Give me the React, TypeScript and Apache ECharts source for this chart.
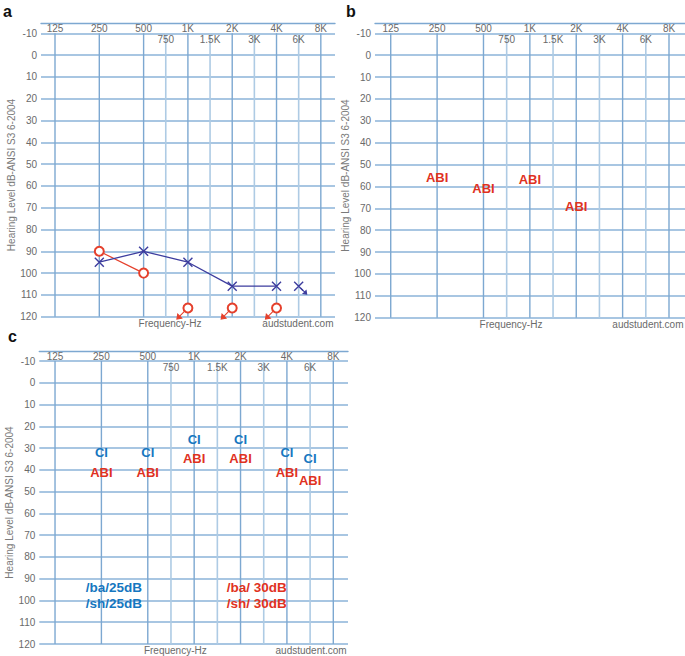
import React, { useEffect, useRef } from 'react';
import * as echarts from 'echarts';

// ---------- data ----------
// frequency positions on an octave scale: 125 Hz = 0, 250 = 1, ... 8K = 6
const freqLabelsMain = ['125', '250', '500', '1K', '2K', '4K', '8K'];
const freqIdxMain = [0, 1, 2, 3, 4, 5, 6];
const freqLabelsMid = ['750', '1.5K', '3K', '6K'];
const freqIdxMid = [2.5, 3.5, 4.5, 5.5];
const dbTicks = [-10, 120];

// Panel a: unaided audiogram
const rightEarIdx = [1, 2];
const rightEarDb = [90, 100];
const rightNoRespIdx = [3, 4, 5];
const rightNoRespDb = [116, 116, 116];
const leftEarIdx = [1, 2, 3, 4, 5];
const leftEarDb = [95, 90, 95, 106, 106];
const leftNoRespIdx = [5.5];
const leftNoRespDb = [106];

// Panel b: ABI aided thresholds
const abiBIdx = [1, 2, 3, 4];
const abiBDb = [56, 61, 57, 69];

// Panel c: CI and ABI aided thresholds
const cIdx = [1, 2, 3, 4, 5, 5.5];
const ciDb = [32, 32, 26, 26, 32, 35];
const abiCDb = [41, 41, 35, 35, 41, 45];
const speechTextCI = ['/ba/25dB', '/sh/25dB'];
const speechTextABI = ['/ba/ 30dB', '/sh/ 30dB'];
const speechIdxCI = [1.27, 1.27];
const speechIdxABI = [4.35, 4.35];
const speechDb = [94, 101.6];

// ---------- styles ----------
const FONT = 'Liberation Sans, Arial, Helvetica, sans-serif';
const GRID_MAIN = '#7da8d1';
const GRID_MID = '#aecbe4';
const GRID_H = '#8bb3d8';
const TICK_TXT = '#6a6a6a';
const RED = '#e5402c';
const INDIGO = '#3d3d9e';
const CI_BLUE = '#1677c0';
const ABI_RED = '#e0321f';

const panels = [
  { left: 41, top: 33.3, width: 294, height: 283.4, xMin: -0.316, xMax: 6.32 },
  { left: 375, top: 33.3, width: 310, height: 284.4, xMin: -0.339, xMax: 6.345 },
  { left: 39.3, top: 361, width: 308.7, height: 283, xMin: -0.339, xMax: 6.317 },
];

function gridSeries(p: number) {
  const out: any[] = [];
  freqIdxMain.forEach((f) => {
    out.push({
      type: 'line', xAxisIndex: p, yAxisIndex: p, silent: true, z: 1,
      showSymbol: false, symbol: 'none',
      data: [[f, dbTicks[0]], [f, dbTicks[1]]],
      lineStyle: { color: GRID_MAIN, width: 1.4 },
    });
  });
  freqIdxMid.forEach((f) => {
    out.push({
      type: 'line', xAxisIndex: p, yAxisIndex: p, silent: true, z: 1,
      showSymbol: false, symbol: 'none',
      data: [[f, dbTicks[0]], [f, dbTicks[1]]],
      lineStyle: { color: GRID_MID, width: 1.6 },
    });
  });
  const lbl = { show: true, position: 'inside', formatter: '{b}', color: TICK_TXT, fontSize: 10, fontFamily: FONT };
  out.push({
    type: 'scatter', xAxisIndex: p, yAxisIndex: p, silent: true, clip: false, z: 3,
    symbolSize: 1, itemStyle: { color: 'transparent', opacity: 1 },
    data: freqIdxMain.map((f, i) => ({ value: [f, -12.2], name: freqLabelsMain[i] })),
    label: lbl,
  });
  out.push({
    type: 'scatter', xAxisIndex: p, yAxisIndex: p, silent: true, clip: false, z: 3,
    symbolSize: 1, itemStyle: { color: 'transparent', opacity: 1 },
    data: freqIdxMid.map((f, i) => ({ value: [f, -7.1], name: freqLabelsMid[i] })),
    label: lbl,
  });
  return out;
}

function textSeries(p: number, idx: number[], db: number[], texts: string[], color: string, size: number) {
  return {
    type: 'scatter', xAxisIndex: p, yAxisIndex: p, silent: true, clip: false, z: 6,
    symbolSize: 1, itemStyle: { color: 'transparent', opacity: 1 },
    data: idx.map((f, i) => ({ value: [f, db[i]], name: texts[i] })),
    label: {
      show: true, position: 'inside', formatter: '{b}', color, fontSize: size,
      fontWeight: 'bold', fontFamily: FONT,
    },
  };
}

const X_PATH = 'path://M0,0L10,10M10,0L0,10';
const ARROW_DL = 'path://M10,0L2,8M0,10L1,4L6,9Z';
const ARROW_DR = 'path://M0,0L8,8M10,10L9,4L4,9Z';

function buildOption() {
  const grid = panels.map((p) => ({ left: p.left, top: p.top, width: p.width, height: p.height }));
  const xAxis = panels.map((p, i) => ({
    type: 'value', gridIndex: i, position: 'top', offset: 10,
    min: p.xMin, max: p.xMax,
    axisLine: { show: true, onZero: false, lineStyle: { color: GRID_MAIN, width: 1.4 } },
    axisTick: { show: false }, axisLabel: { show: false }, splitLine: { show: false },
  }));
  const yAxis = panels.map((p, i) => ({
    type: 'value', gridIndex: i, inverse: true, min: -10, max: 120, interval: 10,
    axisLine: { show: false }, axisTick: { show: false },
    axisLabel: { color: TICK_TXT, fontSize: 10, fontFamily: FONT, margin: 4 },
    splitLine: { show: true, lineStyle: { color: GRID_H, width: 1.5 } },
    name: 'Hearing Level dB-ANSI S3 6-2004', nameLocation: 'middle', nameGap: 20,
    nameTextStyle: { color: '#7a7a7a', fontSize: 10, fontFamily: FONT },
  }));

  const series: any[] = [];
  [0, 1, 2].forEach((p) => series.push(...gridSeries(p)));

  // Panel a data
  series.push({
    type: 'line', xAxisIndex: 0, yAxisIndex: 0, z: 5,
    data: rightEarIdx.map((f, i) => [f, rightEarDb[i]]),
    symbol: 'emptyCircle', symbolSize: 9,
    itemStyle: { color: RED, borderColor: RED, borderWidth: 1.1, opacity: 1 },
    lineStyle: { color: RED, width: 1.2 },
  });
  series.push({
    type: 'scatter', xAxisIndex: 0, yAxisIndex: 0, z: 5, clip: false,
    data: rightNoRespIdx.map((f, i) => [f, rightNoRespDb[i]]),
    symbol: 'emptyCircle', symbolSize: 9,
    itemStyle: { color: RED, borderColor: RED, borderWidth: 1.1, opacity: 1 },
  });
  series.push({
    type: 'scatter', xAxisIndex: 0, yAxisIndex: 0, z: 5, clip: false,
    data: rightNoRespIdx.map((f, i) => [f, rightNoRespDb[i]]),
    symbol: ARROW_DL, symbolSize: 8, symbolOffset: [-7, 7],
    itemStyle: { color: RED, borderColor: RED, borderWidth: 1.1, opacity: 1 },
  });
  series.push({
    type: 'line', xAxisIndex: 0, yAxisIndex: 0, z: 5,
    data: leftEarIdx.map((f, i) => [f, leftEarDb[i]]),
    symbol: X_PATH, symbolSize: 9,
    itemStyle: { color: 'transparent', borderColor: INDIGO, borderWidth: 1.4, opacity: 1 },
    lineStyle: { color: INDIGO, width: 1.3 },
  });
  series.push({
    type: 'scatter', xAxisIndex: 0, yAxisIndex: 0, z: 5,
    data: leftNoRespIdx.map((f, i) => [f, leftNoRespDb[i]]),
    symbol: X_PATH, symbolSize: 9,
    itemStyle: { color: 'transparent', borderColor: INDIGO, borderWidth: 1.4, opacity: 1 },
  });
  series.push({
    type: 'scatter', xAxisIndex: 0, yAxisIndex: 0, z: 5,
    data: leftNoRespIdx.map((f, i) => [f, leftNoRespDb[i]]),
    symbol: ARROW_DR, symbolSize: 6, symbolOffset: [5, 5],
    itemStyle: { color: INDIGO, borderColor: INDIGO, borderWidth: 1.1, opacity: 1 },
  });

  // Panel b
  series.push(textSeries(1, abiBIdx, abiBDb, abiBIdx.map(() => 'ABI'), ABI_RED, 13));

  // Panel c
  series.push(textSeries(2, cIdx, ciDb, cIdx.map(() => 'CI'), CI_BLUE, 13));
  series.push(textSeries(2, cIdx, abiCDb, cIdx.map(() => 'ABI'), ABI_RED, 13));
  series.push(textSeries(2, speechIdxCI, speechDb, speechTextCI, CI_BLUE, 13.5));
  series.push(textSeries(2, speechIdxABI, speechDb, speechTextABI, ABI_RED, 13.5));

  const txt = (text: string, x: number, y: number, align: string, font: string, fill: string) => ({
    type: 'text', silent: true, z: 10,
    style: { text, x, y, fill, font, align, textAlign: align, verticalAlign: 'middle', textVerticalAlign: 'middle' },
  });
  const small = `10px ${FONT}`;
  const graphic = [
    txt('a', 3, 11.5, 'left', `bold 16px ${FONT}`, '#111'),
    txt('b', 346, 11, 'left', `bold 16px ${FONT}`, '#111'),
    txt('c', 8, 336.5, 'left', `bold 16px ${FONT}`, '#111'),
    txt('Frequency-Hz', 170, 323.5, 'center', small, TICK_TXT),
    txt('audstudent.com', 333.5, 323.5, 'right', small, TICK_TXT),
    txt('Frequency-Hz', 511, 324.5, 'center', small, TICK_TXT),
    txt('audstudent.com', 683.5, 324.5, 'right', small, TICK_TXT),
    txt('Frequency-Hz', 175.3, 650.3, 'center', small, TICK_TXT),
    txt('audstudent.com', 346.7, 650.3, 'right', small, TICK_TXT),
  ];

  return {
    animation: false,
    backgroundColor: '#ffffff',
    textStyle: { fontFamily: FONT },
    grid, xAxis, yAxis, series, graphic,
  };
}

export default function App() {
  const ref = useRef<HTMLDivElement | null>(null);
  useEffect(() => {
    if (!ref.current) return;
    const chart = echarts.init(ref.current, undefined, { renderer: 'svg' });
    chart.setOption(buildOption() as any);
    return () => chart.dispose();
  }, []);
  return (
    <div
      ref={ref}
      style={{ position: 'absolute', left: 0, top: 0, width: 685, height: 656 }}
    />
  );
}
